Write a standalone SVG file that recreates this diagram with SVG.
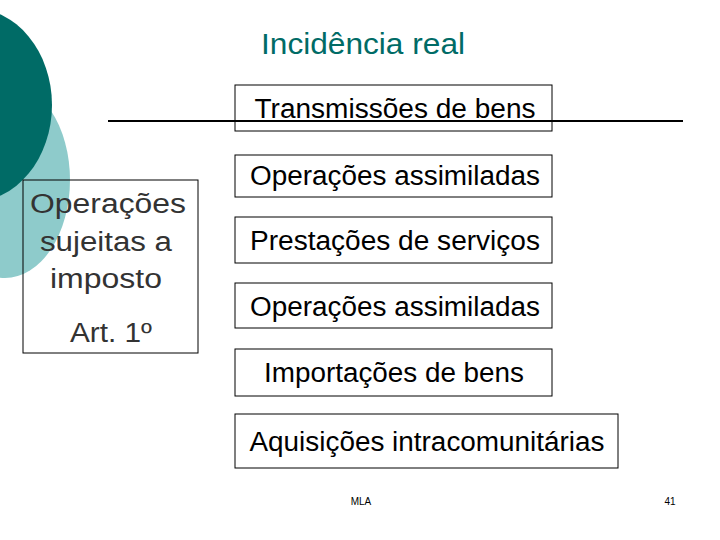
<svg xmlns="http://www.w3.org/2000/svg" width="720" height="540" viewBox="0 0 720 540">
<style>
.b{fill:none;stroke:#000;stroke-width:1}
.t{font-family:"Liberation Sans",Arial,sans-serif;font-size:27px;fill:#000;text-anchor:middle;lengthAdjust:spacingAndGlyphs}
.l{fill:#333}
</style>
<rect width="720" height="540" fill="#fff"/>
<g id="decor">
<ellipse cx="5" cy="180" rx="65" ry="98" fill="#8ecbcb"/>
<ellipse cx="-28" cy="105" rx="80" ry="97" fill="#006b66"/>
</g>
<text x="363" y="54" font-family="Liberation Sans,Arial,sans-serif" font-size="29" fill="#006b66" text-anchor="middle" textLength="204" lengthAdjust="spacingAndGlyphs">Incidência real</text>
<g id="connectors"><line x1="108" y1="121" x2="683" y2="121" stroke="#000" stroke-width="2"/></g>
<g id="left"><rect class="b" x="23" y="180" width="175" height="173"/>
<text class="t l" x="108" y="213" textLength="156" lengthAdjust="spacingAndGlyphs">Operações</text>
<text class="t l" x="106" y="251" textLength="132" lengthAdjust="spacingAndGlyphs">sujeitas a</text>
<text class="t l" x="106" y="288" textLength="112" lengthAdjust="spacingAndGlyphs">imposto</text>
<text class="t l" x="111" y="342" textLength="82" lengthAdjust="spacingAndGlyphs">Art. 1º</text></g>
<g id="n1"><rect class="b" x="235" y="85" width="317" height="46"/><text class="t" x="395" y="118" textLength="281" lengthAdjust="spacingAndGlyphs">Transmissões de bens</text></g>
<g id="n2"><rect class="b" x="235" y="155" width="317" height="42"/><text class="t" x="395" y="185" textLength="290" lengthAdjust="spacingAndGlyphs">Operações assimiladas</text></g>
<g id="n3"><rect class="b" x="235" y="217" width="317" height="46"/><text class="t" x="395" y="250" textLength="290" lengthAdjust="spacingAndGlyphs">Prestações de serviços</text></g>
<g id="n4"><rect class="b" x="235" y="283" width="317" height="45"/><text class="t" x="395" y="316" textLength="290" lengthAdjust="spacingAndGlyphs">Operações assimiladas</text></g>
<g id="n5"><rect class="b" x="235" y="349" width="317" height="47"/><text class="t" x="394" y="382" textLength="260" lengthAdjust="spacingAndGlyphs">Importações de bens</text></g>
<g id="n6"><rect class="b" x="235" y="414" width="383" height="54"/><text class="t" x="427" y="451" textLength="355" lengthAdjust="spacingAndGlyphs">Aquisições intracomunitárias</text></g>
<text x="361" y="505" font-family="Liberation Sans,Arial,sans-serif" font-size="10" text-anchor="middle">MLA</text>
<text x="670" y="505" font-family="Liberation Sans,Arial,sans-serif" font-size="10" text-anchor="middle">41</text>
</svg>
